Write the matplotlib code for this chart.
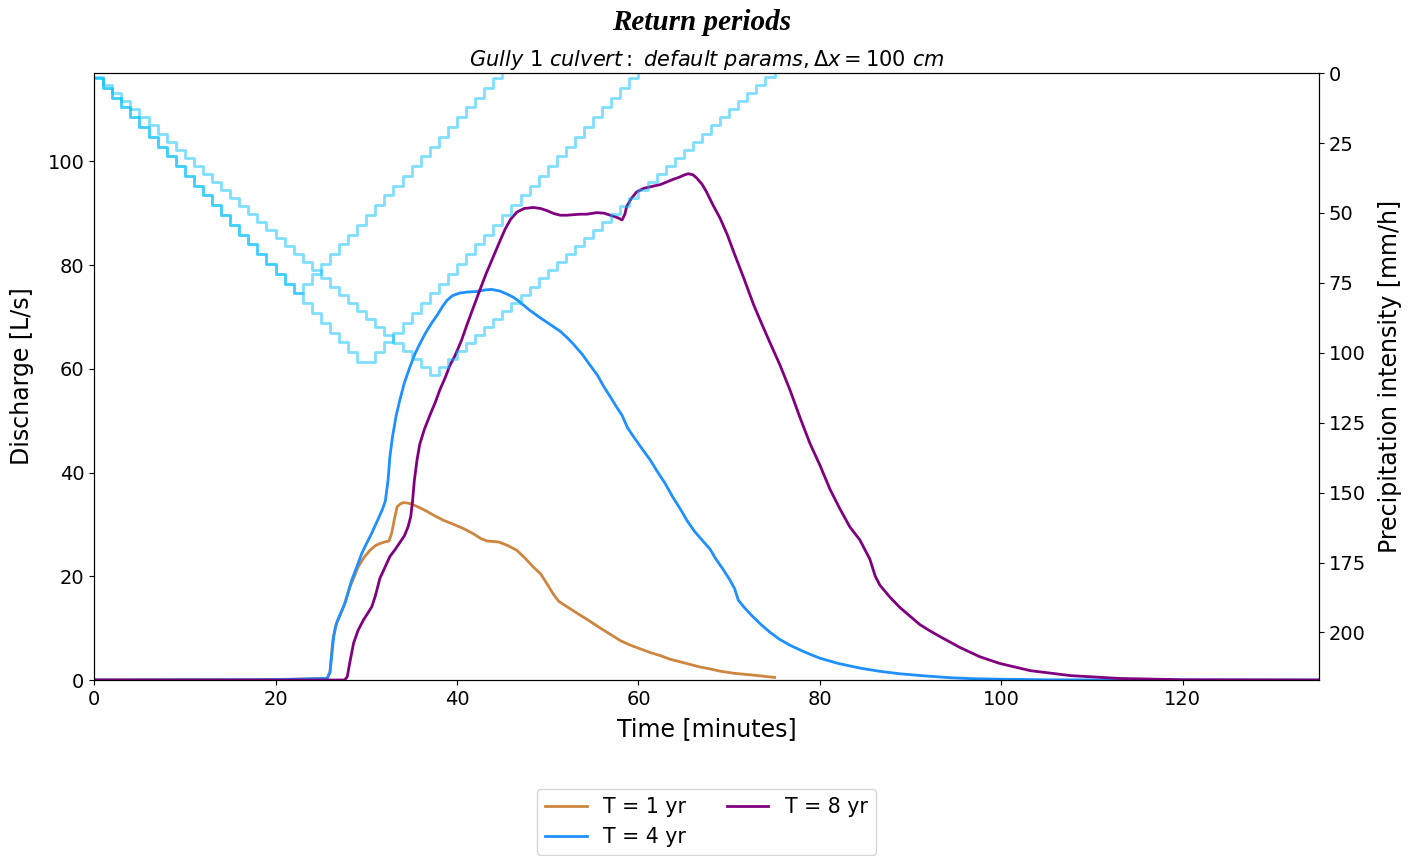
import numpy as np
import matplotlib
matplotlib.use("Agg")
import matplotlib.pyplot as plt

# -------------------- Veri --------------------
labels = ["T = 1 yr", "T = 4 yr", "T = 8 yr"]
colors = ["peru", "dodgerblue", "purple"]

# debi [L/s]
t_T1 = [0, 18, 22, 25.5, 25.7, 26.0, 26.3, 26.6, 27.0, 27.5, 28.2, 28.7, 29.1, 29.7, 30.4,
        31.0, 31.5, 32.0, 32.5, 32.8, 33.1, 33.4, 33.8, 34.1, 34.6, 35.0, 35.8, 36.7, 37.5,
        38.5, 39.5, 40.7, 41.8, 42.6, 43.3, 44.0, 44.6, 45.5, 46.6, 47.5, 48.4, 49.2, 49.9,
        50.6, 51.2, 51.7, 52.5, 53.4, 54.5, 55.8, 57.0, 58.0, 59.0, 60.2, 61.3, 62.4, 63.5,
        64.6, 65.7, 66.8, 68.0, 69.0, 70.5, 72.3, 73.7, 75.0]
Q_T1 = [0, 0.05, 0.15, 0.3, 0.35, 1.5, 7.5, 10.3, 12.0, 14.1, 18.0, 20.0, 21.8, 23.5, 25.0,
        25.9, 26.3, 26.6, 26.8, 28.3, 31.0, 33.4, 34.0, 34.2, 34.1, 33.9, 33.3, 32.5, 31.7,
        30.8, 30.1, 29.2, 28.2, 27.3, 26.8, 26.7, 26.6, 26.0, 25.0, 23.5, 21.8, 20.5, 18.6,
        16.6, 15.2, 14.6, 13.7, 12.7, 11.5, 10.0, 8.7, 7.6, 6.8, 6.0, 5.3, 4.7, 4.0,
        3.5, 3.0, 2.5, 2.1, 1.7, 1.3, 1.0, 0.75, 0.5]

t_T4 = [0, 18, 22, 25.5, 25.7, 26.0, 26.4, 26.7, 27.2, 27.7, 28.4, 29.0, 29.5, 30.0, 30.6,
        31.3, 31.8, 32.1, 32.4, 32.6, 32.9, 33.3, 33.7, 34.2, 34.8, 35.4, 35.9, 36.5, 37.2,
        37.8, 38.4, 38.9, 39.5, 40.3, 41.2, 42.2, 43.1, 43.8, 44.7, 45.5, 46.2, 46.9, 48.0,
        49.2, 50.3, 51.4, 52.2, 52.8, 53.8, 54.7, 55.5, 56.1, 57.0, 57.6, 58.2, 58.8, 59.5,
        60.3, 61.3, 62.0, 62.9, 63.8, 64.6, 65.4, 66.2, 67.0, 67.9, 68.5, 69.3, 70.0, 70.6,
        71.0, 71.7, 72.5, 73.5, 74.5, 75.5, 76.7, 78.3, 80.0, 82.0, 84.4, 86.5, 88.8, 91.5,
        94.3, 97.0, 100, 105, 110, 120, 135]
Q_T4 = [0, 0.05, 0.15, 0.3, 0.35, 1.5, 8.3, 10.9, 13.0, 15.0, 19.3, 22.0, 24.4, 26.2, 28.3,
        31.0, 33.0, 34.5, 38.5, 43.0, 47.0, 51.0, 54.0, 57.3, 60.3, 63.0, 64.8, 66.8, 68.8,
        70.3, 72.0, 73.2, 74.1, 74.6, 74.8, 74.9, 75.2, 75.3, 75.0, 74.4, 73.8, 72.9, 71.3,
        69.8, 68.5, 67.2, 65.9, 64.8, 62.8, 60.6, 58.7, 56.8, 54.3, 52.6, 51.0, 48.6, 46.8,
        44.8, 42.4, 40.4, 38.0, 35.2, 33.0, 30.6, 28.6, 27.0, 25.2, 23.4, 21.4, 19.5, 17.6,
        15.4, 13.9, 12.4, 10.7, 9.2, 7.9, 6.7, 5.4, 4.2, 3.2, 2.3, 1.7, 1.2, 0.8,
        0.45, 0.25, 0.15, 0.05, 0.02, 0, 0]

t_T8 = [0, 20, 27.6, 27.9, 28.2, 28.6, 29.1, 29.7, 30.1, 30.6, 31.0, 31.5, 32.0, 32.6, 33.2,
        33.7, 34.2, 34.6, 34.9, 35.1, 35.3, 35.6, 35.9, 36.4, 37.0, 37.6, 38.1, 38.7, 39.2,
        39.8, 40.5, 41.1, 41.8, 42.5, 43.2, 44.0, 44.7, 45.3, 45.9, 46.6, 47.4, 48.4, 49.2,
        49.9, 50.7, 51.4, 52.1, 52.8, 53.6, 54.3, 55.4, 56.2, 56.9, 57.6, 58.2, 58.5, 58.7,
        59.2, 59.8, 60.6, 61.6, 62.4, 63.1, 63.8, 64.6, 65.1, 65.5, 66.0, 66.4, 67.0, 67.5,
        68.2, 69.0, 69.8, 70.5, 71.6, 72.7, 73.6, 74.5, 75.6, 76.7, 77.8, 78.9, 80.0, 81.1,
        82.2, 83.3, 84.4, 85.5, 86.1, 86.6, 87.7, 88.8, 90.0, 91.0, 92.1, 93.2, 95.4, 97.6,
        99.8, 103.2, 107.6, 113, 120, 135]
Q_T8 = [0, 0, 0, 0.6, 3.5, 7.1, 9.6, 11.6, 12.7, 14.1, 16.2, 19.6, 21.5, 23.8, 25.2,
        26.5, 27.8, 29.5, 31.5, 34.5, 38.5, 42.5, 45.5, 48.3, 51.0, 53.5, 55.9, 58.3, 60.6,
        62.6, 65.5, 68.5, 71.8, 75.1, 78.3, 81.6, 84.5, 86.9, 88.8, 90.2, 90.9, 91.1, 90.9,
        90.5, 89.9, 89.6, 89.6, 89.7, 89.8, 89.8, 90.1, 90.0, 89.6, 89.2, 88.7, 89.8, 91.3,
        92.8, 94.1, 94.8, 95.2, 95.5, 96.0, 96.5, 97.0, 97.4, 97.6, 97.4, 96.8, 95.6, 94.1,
        91.6, 89.0, 85.8, 82.5, 77.5, 72.3, 68.6, 65.0, 60.7, 55.9, 50.6, 45.6, 41.4, 36.8,
        33.0, 29.5, 27.0, 23.3, 20.0, 18.3, 16.0, 14.0, 12.2, 10.7, 9.5, 8.4, 6.3, 4.5,
        3.2, 1.8, 0.85, 0.3, 0.05, 0]

# yağış şiddeti [mm/h], 1 dakikalık adımlar
P_T1 = [1.75, 5.25, 8.75, 12.25, 15.75, 19.25, 22.75, 26.25, 29.75, 33.25, 36.75, 40.25,
        43.75, 47.25, 50.75, 54.25, 57.75, 61.25, 64.75, 68.25, 71.75, 75.25, 78.75,
        75.25, 71.75, 68.25, 64.75, 61.25, 57.75, 54.25, 50.75, 47.25, 43.75, 40.25,
        36.75, 33.25, 29.75, 26.25, 22.75, 19.25, 15.75, 12.25, 8.75, 5.25, 1.75]
P_T4 = [1.75, 5.25, 8.75, 12.25, 15.75, 19.25, 22.75, 26.25, 29.75, 33.25, 36.75, 40.25,
        43.75, 47.25, 50.75, 54.25, 57.75, 61.25, 64.75, 68.25, 71.75, 75.25, 78.75,
        82.25, 85.75, 89.25, 92.75, 96.25, 99.75, 103.25,
        103.25, 99.75, 96.25, 92.75, 89.25, 85.75, 82.25, 78.75, 75.25, 71.75, 68.25,
        64.75, 61.25, 57.75, 54.25, 50.75, 47.25, 43.75, 40.25, 36.75, 33.25, 29.75,
        26.25, 22.75, 19.25, 15.75, 12.25, 8.75, 5.25, 1.75]
P_T8 = [1.44, 4.32, 7.2, 10.08, 12.96, 15.84, 18.72, 21.6, 24.48, 27.36, 30.24, 33.12,
        36.0, 38.88, 41.76, 44.64, 47.52, 50.4, 53.28, 56.16, 59.04, 61.92, 64.8, 67.68,
        70.56, 73.44, 76.32, 79.2, 82.08, 84.96, 87.84, 90.72, 93.6, 96.48, 99.36,
        102.24, 105.12, 108.0,
        105.12, 102.24, 99.36, 96.48, 93.6, 90.72, 87.84, 84.96, 82.08, 79.2, 76.32,
        73.44, 70.56, 67.68, 64.8, 61.92, 59.04, 56.16, 53.28, 50.4, 47.52, 44.64,
        41.76, 38.88, 36.0, 33.12, 30.24, 27.36, 24.48, 21.6, 18.72, 15.84, 12.96,
        10.08, 7.2, 4.32, 1.44]

series_t = [t_T1, t_T4, t_T8]
series_Q = [Q_T1, Q_T4, Q_T8]
series_P = [P_T1, P_T4, P_T8]

# -------------------- Grafik --------------------
fig = plt.figure(figsize=(14.21, 8.56), dpi=100)
ax = fig.add_axes([0.0662, 0.2056, 0.862, 0.709])

for t, Q, c, lab in zip(series_t, series_Q, colors, labels):
    ax.plot(t, Q, color=c, lw=2, label=lab)

ax.set_xlim(0, 135)
ax.set_ylim(0, 117)
ax.set_xlabel("Time [minutes]", fontsize=17, labelpad=6)
ax.set_ylabel("Discharge [L/s]", fontsize=17, labelpad=10)
ax.tick_params(labelsize=14)

# yağış ikinci eksende, ters
ax2 = ax.twinx()
for P in series_P:
    tp = np.arange(len(P) + 1)
    ax2.step(tp, list(P) + [0], where="post", color="deepskyblue", alpha=0.5, lw=2)
ax2.set_ylim(217, 0)
ax2.set_yticks([0, 25, 50, 75, 100, 125, 150, 175, 200])
ax2.set_ylabel("Precipitation intensity [mm/h]", fontsize=17, labelpad=9)
ax2.tick_params(labelsize=14)

fig.suptitle("Return periods", x=0.494, y=0.99, fontsize=21, fontweight="bold",
             fontstyle="italic", family="Liberation Serif")
ax.set_title(r"$Gully\ 1\ culvert:\ default\ params, \Delta x = 100\ cm$", fontsize=15, pad=5)

ax.legend(loc="upper center", bbox_to_anchor=(0.5, -0.162), ncol=2, fontsize=14.8)

fig.savefig("out.png", dpi=100)
